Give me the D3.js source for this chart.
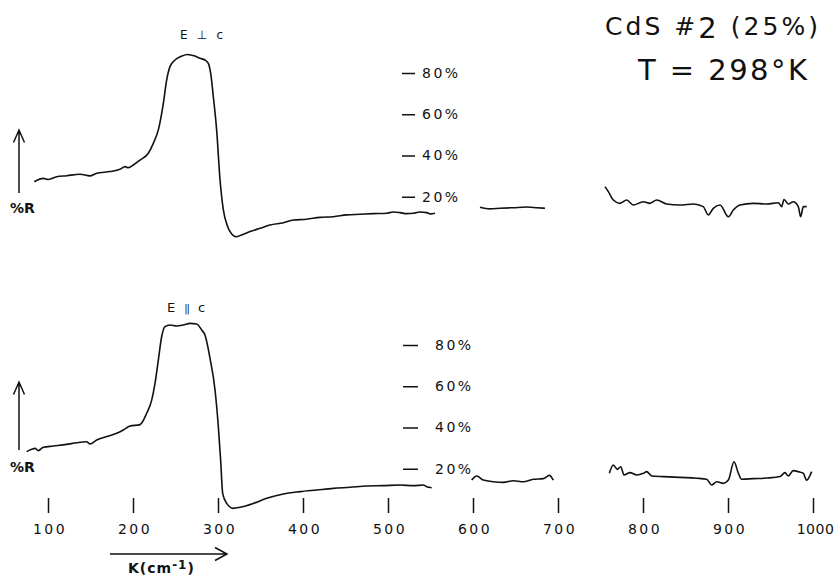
<!DOCTYPE html>
<html>
<head>
<meta charset="utf-8">
<script src="https://cdn.jsdelivr.net/npm/d3@7"></script>
<style>
  body { margin: 0; background: #fff; }
  svg { display: block; }
  text { font-family: "DejaVu Sans", sans-serif; fill: #111; }
</style>
</head>
<body>
<script>
// wavenumber K (cm-1), reflectivity R (%), one array per drawn piece
var perpSeg1 = [[83.9, 27.3], [94.5, 28.9], [100.4, 28.4], [110.2, 29.7], [122, 30.2],
  [137.6, 30.9], [149.4, 30.1], [157.3, 31.4], [172.9, 32.2], [184.7, 33.3], [190.6, 34.6],
  [194.5, 34.1], [200.4, 35.4], [208.2, 37.8], [218, 41.1], [223.9, 45.9], [229.8, 52.4],
  [235.7, 65.3], [239.6, 76.6], [243.5, 83.1], [249.4, 86.3], [257.3, 88.2], [263.9, 89],
  [272.9, 88.2], [278.8, 87.1], [284.7, 86.3], [288.6, 84.7], [291.4, 79.8], [294.5, 68.5],
  [298.4, 52.4], [302.4, 28.1], [306.3, 13.6], [311.4, 5.5], [316.1, 1.9], [321.2, 0.6],
  [327.8, 1.5], [337.6, 3.1], [349.4, 4.7], [361.2, 6.3], [376.9, 7.4], [388.6, 8.7],
  [404.3, 9.1], [420, 10], [435.7, 10.3], [451.4, 11.2], [467.1, 11.5], [482.7, 11.8],
  [498.4, 12], [506, 12.6], [514.1, 12.3], [522, 11.8], [529.8, 12], [537, 12.6],
  [545.5, 12.3], [550, 11.7], [555.3, 12]]
var perpSeg2 = [[608.2, 14.9], [620, 14.1], [631.8, 14.4], [647.5, 14.7], [663.2, 15],
  [675, 14.7], [684.7, 14.4]]
var perpSeg3 = [[755.3, 24.9], [759.2, 22.5], [765.1, 18.4], [772.9, 16.8], [780.8, 18.4],
  [788.6, 16], [800.4, 17.6], [808.2, 16.8], [816.1, 18.4], [827.8, 16.5], [843.5, 16],
  [859.2, 16.5], [870.9, 15.2], [876.8, 11.2], [882.7, 14.4], [890.6, 16], [900.4, 10.3],
  [906.3, 13.6], [914.1, 16], [929.8, 16.8], [945.5, 16.5], [959.2, 17.1], [963.1, 15.2],
  [965.9, 18.7], [970.9, 16.5], [976.8, 17.6], [982.7, 15.2], [985.5, 10.3], [988.6, 15.2],
  [992.5, 15.2]]

var paraSeg1 = [[74.9, 28.3], [80.8, 29.4], [84.7, 29.9], [88.6, 28.8], [94.5, 30.4],
  [106.3, 31], [122, 31.8], [133.7, 32.6], [145.5, 33.1], [149.4, 32], [157.3, 33.9],
  [169, 35.6], [180.8, 37.2], [188.6, 38.8], [196.5, 40.7], [208.2, 41.4], [216.1, 46.9],
  [222, 53.3], [225.9, 61.4], [229.8, 72.7], [233.7, 84], [237.6, 88.9], [243.5, 89.7],
  [251.4, 89.2], [259.2, 89.7], [267.1, 90.5], [274.9, 90.2], [280.8, 87.3], [284.7, 84.8],
  [290.6, 73.5], [296.5, 58.2], [300.4, 40.4], [303.1, 24.2], [305.5, 8.1], [310.2, 3.2],
  [318, 0.8], [325.9, 1.3], [341.6, 3.2], [357.3, 5.7], [376.9, 7.8], [396.5, 8.9],
  [416.1, 9.7], [435.7, 10.5], [455.3, 11], [475, 11.6], [494.5, 11.8], [514.1, 12.1],
  [529.8, 11.8], [541.6, 12.1], [545.5, 11.3], [551.4, 10.8]]
var paraSeg2 = [[598.4, 14.5], [604.3, 16.5], [612.1, 14.5], [623.9, 13.7], [635.7, 13.4],
  [647.5, 14.2], [659.2, 13.7], [671, 14.9], [682.7, 15.2], [689.8, 16.8], [694.5, 14.5]]
var paraSeg3 = [[760.4, 17.8], [765.1, 21.8], [769.8, 19.7], [773.8, 21], [777.6, 17],
  [784.7, 18.1], [792.5, 17], [800.4, 17.8], [804.3, 18.6], [810.2, 16.5], [823.9, 16.2],
  [843.5, 15.8], [863.1, 15.4], [874.9, 14.9], [880.8, 12.1], [886.7, 13.7], [894.5, 12.9],
  [900.4, 14.5], [907.1, 23.4], [912.2, 17.8], [916.1, 14.9], [929.8, 15.2], [945.5, 15.5],
  [961.2, 16.2], [967.1, 18.1], [970.9, 16.5], [976.8, 19.1], [982.7, 18.6], [988.6, 17.8],
  [992.5, 14.5], [998.4, 18.6]]

var kTicks = [100, 200, 300, 400, 500, 600, 700, 800, 900, 1000]
var rTicks = [20, 40, 60, 80]

var sampleTitle = 'CdS #2 (25%)'
var tempTitle = 'T = 298°K'

var width = 836, height = 582
var svg = d3.select('body').append('svg')
  .attr('width', width)
  .attr('height', height)

var x = d3.scaleLinear().domain([100, 1000]).range([48, 813])
var yTop = d3.scaleLinear().domain([0, 80]).range([238, 73])
var yBot = d3.scaleLinear().domain([0, 80]).range([510, 345])

function drawTrace(seg, y) {
  var line = d3.line()
    .x(d => x(d[0]))
    .y(d => y(d[1]))
    .curve(d3.curveMonotoneX)
  svg.append('path')
    .attr('d', line(seg))
    .attr('fill', 'none')
    .attr('stroke', '#111')
    .attr('stroke-width', 1.6)
    .attr('stroke-linejoin', 'round')
}
;[perpSeg1, perpSeg2, perpSeg3].forEach(s => drawTrace(s, yTop))
;[paraSeg1, paraSeg2, paraSeg3].forEach(s => drawTrace(s, yBot))

// percent scales, dash + label
function rAxis(y, xPos, size, pad) {
  var axis = d3.axisRight(y)
    .tickValues(rTicks)
    .tickSize(size)
    .tickPadding(pad)
    .tickFormat(d => d + '%')
  var g = svg.append('g')
    .attr('transform', 'translate(' + xPos + ',0)')
    .call(axis)
  g.select('.domain').remove()
  g.selectAll('line').attr('stroke', '#111').attr('stroke-width', 1.5)
  g.selectAll('text')
    .attr('fill', '#111')
    .style('font-size', '14px')
    .style('letter-spacing', '2.5px')
}
rAxis(yTop, 402, 13, 7)
rAxis(yBot, 403, 15, 17)

// wavenumber axis
var kAxis = d3.axisBottom(x)
  .tickValues(kTicks)
  .tickSize(15)
  .tickPadding(11)
  .tickFormat(d3.format('d'))
var kg = svg.append('g')
  .attr('transform', 'translate(0,498)')
  .call(kAxis)
kg.select('.domain').remove()
kg.selectAll('line').attr('stroke', '#111').attr('stroke-width', 1.5)
kg.selectAll('text')
  .attr('fill', '#111')
  .attr('dx', d => d === 1000 ? '2px' : '1.5px')
  .style('font-size', '14px')
  .style('letter-spacing', d => d === 1000 ? '0.5px' : '2.5px')

// arrows
function arrow(x1, y1, x2, y2, w1, w2) {
  var p = d3.path()
  p.moveTo(x1, y1); p.lineTo(x2, y2)
  p.moveTo(w1[0], w1[1]); p.lineTo(x2, y2); p.lineTo(w2[0], w2[1])
  svg.append('path')
    .attr('d', p.toString())
    .attr('fill', 'none')
    .attr('stroke', '#111')
    .attr('stroke-width', 1.5)
}
arrow(19, 193, 19, 130, [13.5, 142.5], [24.5, 142.5])
arrow(19, 450, 19, 382, [13.5, 394.5], [24.5, 394.5])
arrow(110, 554, 227, 554, [215, 547.5], [215, 560.5])

svg.append('text').attr('x', 10).attr('y', 213)
  .style('font-size', '14px').style('font-weight', 'bold').text('%R')
svg.append('text').attr('x', 10).attr('y', 472)
  .style('font-size', '14px').style('font-weight', 'bold').text('%R')

var kl = svg.append('text').attr('x', 128).attr('y', 573)
  .style('font-size', '14px').style('font-weight', 'bold').style('letter-spacing', '1px')
kl.append('tspan').text('K(cm')
kl.append('tspan').attr('dy', -4).style('font-size', '12px').text('-1')
kl.append('tspan').attr('dy', 4).text(')')

svg.append('text').attr('x', 180).attr('y', 39)
  .attr('textLength', 43).attr('lengthAdjust', 'spacing')
  .style('font-size', '12px').text('E ⊥ c')

var par = svg.append('text').attr('x', 167).attr('y', 312)
  .style('font-size', '13px')
par.append('tspan').text('E')
par.append('tspan').attr('dx', 9).style('font-size', '10px').style('letter-spacing', '-1px').text('||')
par.append('tspan').attr('dx', 9).text('c')

var t1 = svg.append('text').attr('x', 605).attr('y', 35)
  .attr('textLength', 213).attr('lengthAdjust', 'spacing')
  .style('font-size', '25px')
t1.append('tspan').text(sampleTitle.slice(0, 5))
t1.append('tspan').attr('dy', 3).style('font-size', '29px').text(sampleTitle.slice(5, 6))
t1.append('tspan').attr('dy', -3).text(sampleTitle.slice(6))

svg.append('text').attr('x', 638).attr('y', 80)
  .attr('textLength', 169).attr('lengthAdjust', 'spacing')
  .style('font-size', '29px').text(tempTitle)
</script>
</body>
</html>
